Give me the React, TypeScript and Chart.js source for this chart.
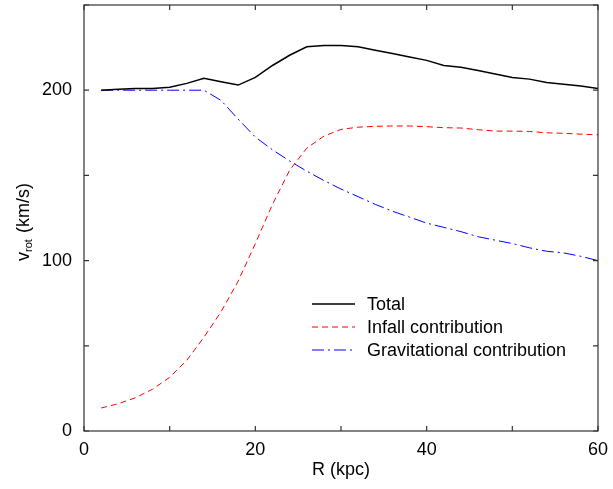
import React, { useEffect, useRef } from "react";
import { Chart, registerables } from "chart.js";

Chart.register(...registerables);

const radius = [2, 4, 6, 8, 10, 12, 14, 16, 18, 20, 22, 24, 26, 28, 30, 32, 34, 36, 38, 40, 42, 44, 46, 48, 50, 52, 54, 56, 58, 60];
const total = [200, 200.6, 201, 201, 201.8, 204, 207, 205, 203, 207.5, 214.5, 220.5, 225.5, 226.3, 226.3, 225.5, 223.5, 221.5, 219.5, 217.5, 214.5, 213.5, 211.5, 209.5, 207.5, 206.5, 204.5, 203.5, 202.5, 201];
const infall = [13.5, 16, 19.5, 24.5, 31.5, 41.5, 55, 70, 88, 110, 133, 153, 166, 173, 177, 178.3, 178.8, 179, 179, 178.6, 178, 177.8, 176.8, 176, 176, 175.8, 175, 174.7, 174.2, 173.8];
const grav = [200, 200, 200, 200, 200, 200, 200, 194, 183, 172.5, 165, 158.5, 152.5, 147, 142, 137.5, 133, 129, 125.5, 122, 119.5, 117, 114, 112, 110, 107.5, 105.5, 104.5, 102.5, 100];

const xLabelTicks = [0, 20, 40, 60];
const yLabelTicks = [0, 100, 200];
const seriesNames = ["Total", "Infall contribution", "Gravitational contribution"];
const xTitle = "R (kpc)";

const FONT = "'Liberation Sans', Arial, Helvetica, sans-serif";

const colors = ["#000000", "#ff0000", "#0000ff"];
const dashes: number[][] = [[], [6, 4], [12, 4, 2, 4]];
const widths = [1.5, 1, 1];

export default function App() {
  const ref = useRef<HTMLCanvasElement | null>(null);

  useEffect(() => {
    document.body.style.margin = "0";
    const canvas = ref.current;
    if (!canvas) return;

    const series = [total, infall, grav];

    const framePlugin = {
      id: "frameTicks",
      afterDraw(chart: any) {
        const ctx = chart.ctx;
        const { left, right, top, bottom } = chart.chartArea;
        const xs = chart.scales.x;
        const ys = chart.scales.y;
        ctx.save();
        ctx.strokeStyle = "#333";
        ctx.lineWidth = 1.2;
        ctx.strokeRect(left, top, right - left, bottom - top);
        const tl = 5;
        ctx.beginPath();
        for (let v = 0; v <= 60; v += 10) {
          const px = xs.getPixelForValue(v);
          ctx.moveTo(px, bottom);
          ctx.lineTo(px, bottom - tl);
          ctx.moveTo(px, top);
          ctx.lineTo(px, top + tl);
        }
        for (let v = 0; v <= 250; v += 50) {
          const py = ys.getPixelForValue(v);
          ctx.moveTo(left, py);
          ctx.lineTo(left + tl, py);
          ctx.moveTo(right, py);
          ctx.lineTo(right - tl, py);
        }
        ctx.stroke();

        // axis titles
        ctx.fillStyle = "#000";
        ctx.font = `18px ${FONT}`;
        ctx.textAlign = "center";
        ctx.textBaseline = "middle";
        ctx.fillText(xTitle, (left + right) / 2, 470);

        // y title: v_rot (km/s), rotated
        ctx.save();
        ctx.translate(24, (top + bottom) / 2 + 4);
        ctx.rotate(-Math.PI / 2);
        ctx.textAlign = "left";
        ctx.textBaseline = "middle";
        const big = `18px ${FONT}`;
        const small = `11px ${FONT}`;
        ctx.font = big;
        const wv = ctx.measureText("v").width;
        ctx.font = small;
        const wr = ctx.measureText("rot").width;
        ctx.font = big;
        const wk = ctx.measureText(" (km/s)").width;
        const totalW = wv + wr + 1 + wk;
        let x0 = -totalW / 2;
        ctx.fillText("v", x0, 0);
        x0 += wv;
        ctx.font = small;
        ctx.fillText("rot", x0, 5);
        x0 += wr + 1;
        ctx.font = big;
        ctx.fillText(" (km/s)", x0, 0);
        ctx.restore();

        // legend
        const rows = [304, 327, 350];
        ctx.font = `18px ${FONT}`;
        ctx.textAlign = "left";
        ctx.textBaseline = "middle";
        seriesNames.forEach((name, i) => {
          ctx.beginPath();
          ctx.setLineDash(dashes[i]);
          ctx.strokeStyle = colors[i];
          ctx.lineWidth = widths[i];
          ctx.moveTo(312, rows[i]);
          ctx.lineTo(355, rows[i]);
          ctx.stroke();
          ctx.setLineDash([]);
          ctx.fillStyle = "#000";
          ctx.fillText(name, 367, rows[i] + 1);
        });
        ctx.restore();
      },
    };

    const chart = new Chart(canvas, {
      type: "line",
      data: {
        datasets: series.map((s, i) => ({
          label: seriesNames[i],
          data: s.map((y, j) => ({ x: radius[j], y })),
          borderColor: colors[i],
          borderWidth: widths[i],
          borderDash: dashes[i],
          pointRadius: 0,
          tension: 0,
          fill: false,
        })),
      },
      options: {
        responsive: false,
        animation: false,
        layout: { padding: { top: 5, right: 15, left: 0, bottom: 0 } },
        plugins: { legend: { display: false }, tooltip: { enabled: false } },
        scales: {
          x: {
            type: "linear",
            min: 0,
            max: 60,
            grid: { display: false, drawTicks: false, tickLength: 0 },
            border: { display: false },
            afterFit: (s: any) => {
              s.height = 58;
              s.paddingLeft = 0;
              s.paddingRight = 0;
            },
            afterBuildTicks: (s: any) => {
              s.ticks = xLabelTicks.map((v) => ({ value: v }));
            },
            ticks: {
              color: "#000",
              padding: 8,
              maxRotation: 0,
              font: { family: FONT, size: 18 },
            },
          },
          y: {
            type: "linear",
            min: 0,
            max: 250,
            grid: { display: false, drawTicks: false, tickLength: 0 },
            border: { display: false },
            afterFit: (s: any) => {
              s.width = 84;
              s.paddingTop = 0;
              s.paddingBottom = 0;
            },
            afterBuildTicks: (s: any) => {
              s.ticks = yLabelTicks.map((v) => ({ value: v }));
            },
            ticks: {
              color: "#000",
              padding: 12,
              font: { family: FONT, size: 18 },
            },
          },
        },
      },
      plugins: [framePlugin],
    } as any);

    return () => chart.destroy();
  }, []);

  return <canvas ref={ref} width={613} height={489} style={{ display: "block" }} />;
}
